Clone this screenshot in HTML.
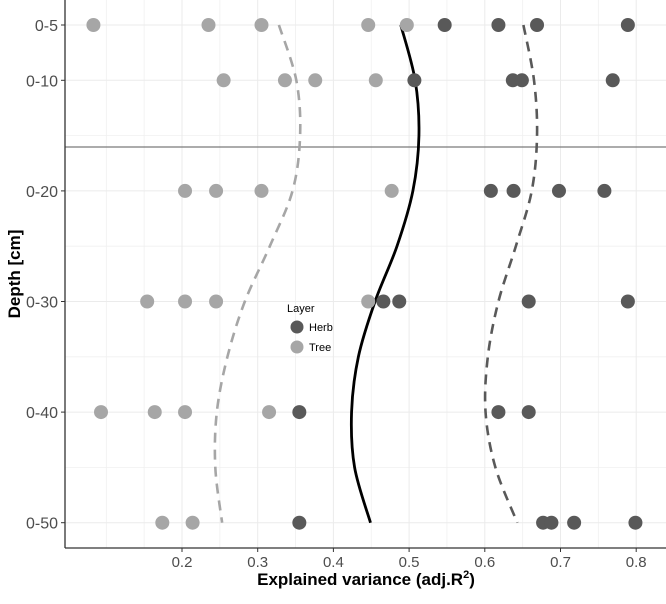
<!DOCTYPE html>
<html><head><meta charset="utf-8"><style>
html,body{margin:0;padding:0;background:#fff;}
svg text{font-family:"Liberation Sans",sans-serif;}
</style></head><body>
<svg id="chart" width="666" height="599" xmlns="http://www.w3.org/2000/svg">
<g id="grid"></g>
<line x1="65" x2="666" y1="147" y2="147" stroke="#7a7a7a" stroke-width="1.2"/>
<g id="curves"></g>
<g id="points"></g>
<g id="axes"></g>
<text x="366" y="585" text-anchor="middle" font-size="17" font-weight="bold" fill="#000">Explained variance (adj.R<tspan dy="-7" font-size="11">2</tspan><tspan dy="7">)</tspan></text>
<text transform="translate(20,274) rotate(-90)" text-anchor="middle" font-size="17" font-weight="bold" fill="#000">Depth [cm]</text>
<g>
<text x="287" y="312" font-size="11" fill="#000">Layer</text>
<circle cx="297" cy="327" r="6.5" fill="#595959"/>
<text x="309" y="331" font-size="11" fill="#000">Herb</text>
<circle cx="297" cy="347" r="6.5" fill="#a6a6a6"/>
<text x="309" y="351" font-size="11" fill="#000">Tree</text>
</g>
</svg>
<script>
const depthTicks=[5,10,20,30,40,50];
const depthLabels=["0-5","0-10","0-20","0-30","0-40","0-50"];
const xTicks=[0.2,0.3,0.4,0.5,0.6,0.7,0.8];
const treeDepths=[5,5,5,5,5,10,10,10,10,20,20,20,20,30,30,30,30,40,40,40,40,50,50];
const treeValues=[0.083,0.235,0.305,0.446,0.497,0.255,0.336,0.376,0.456,0.204,0.245,0.305,0.477,0.154,0.204,0.245,0.446,0.093,0.164,0.204,0.315,0.174,0.214];
const herbDepths=[5,5,5,5,10,10,10,10,20,20,20,20,30,30,30,30,40,40,40,50,50,50,50,50];
const herbValues=[0.547,0.618,0.669,0.789,0.507,0.637,0.649,0.769,0.608,0.638,0.698,0.758,0.466,0.487,0.658,0.789,0.355,0.618,0.658,0.355,0.677,0.688,0.718,0.799];
const curveDepths=[5,10,15,20,25,30,35,40,45,50];
const allCurve=[0.489,0.508,0.513,0.505,0.484,0.455,0.433,0.424,0.428,0.449];
const treeCurve=[0.328,0.351,0.356,0.346,0.316,0.283,0.260,0.246,0.244,0.253];
const herbCurve=[0.651,0.665,0.669,0.662,0.641,0.618,0.604,0.601,0.614,0.643];

const NS="http://www.w3.org/2000/svg";
const X=v=>182+(v-0.2)*757;
const Y=d=>25+(d-5)*11.06;
function mk(tag,attrs,parent){const e=document.createElementNS(NS,tag);for(const k in attrs)e.setAttribute(k,attrs[k]);parent.appendChild(e);return e;}
const grid=document.getElementById('grid'),axes=document.getElementById('axes');
[15,25,35,45].forEach(d=>{const l=mk('line',{x1:65,x2:666,y1:Y(d),y2:Y(d),stroke:'#f0f0f0','stroke-width':0.8},grid);

});
[0.15,0.25,0.35,0.45,0.55,0.65,0.75,0.1].forEach(v=>{const l=mk('line',{x1:X(v),x2:X(v),y1:0,y2:548,stroke:'#f0f0f0','stroke-width':0.8},grid);

});
depthTicks.forEach(d=>{const l=mk('line',{x1:65,x2:666,y1:Y(d),y2:Y(d),stroke:'#ebebeb','stroke-width':1},grid);

});
xTicks.forEach(v=>{const l=mk('line',{x1:X(v),x2:X(v),y1:0,y2:548,stroke:'#ebebeb','stroke-width':1},grid);

});
function smooth(vals){const p=curveDepths.map((d,i)=>[X(vals[i]),Y(d)]);let s=`M${p[0][0]},${p[0][1]}`;
for(let i=0;i<p.length-1;i++){const p0=p[i-1]||p[i],p1=p[i],p2=p[i+1],p3=p[i+2]||p2;
s+=` C${p1[0]+(p2[0]-p0[0])/6},${p1[1]+(p2[1]-p0[1])/6} ${p2[0]-(p3[0]-p1[0])/6},${p2[1]-(p3[1]-p1[1])/6} ${p2[0]},${p2[1]}`;}return s;}
const cg=document.getElementById('curves');
const c1=mk('path',{d:smooth(treeCurve),fill:'none',stroke:'#a6a6a6','stroke-width':2.6,'stroke-dasharray':'10 7'},cg);


const c2=mk('path',{d:smooth(herbCurve),fill:'none',stroke:'#595959','stroke-width':2.6,'stroke-dasharray':'10 7'},cg);


const c3=mk('path',{d:smooth(allCurve),fill:'none',stroke:'#000','stroke-width':2.8},cg);


const pg=document.getElementById('points');
treeValues.forEach((v,i)=>{const c=mk('circle',{cx:X(v),cy:Y(treeDepths[i]),r:7,fill:'#a6a6a6'},pg);

});
herbValues.forEach((v,i)=>{const c=mk('circle',{cx:X(v),cy:Y(herbDepths[i]),r:7,fill:'#595959'},pg);

});
const ax1=mk('line',{x1:65,x2:65,y1:0,y2:548,stroke:'#333','stroke-width':1.3},axes);


const ax2=mk('line',{x1:65,x2:666,y1:548,y2:548,stroke:'#333','stroke-width':1.3},axes);


depthTicks.forEach((d,i)=>{const t=mk('line',{x1:61,x2:65,y1:Y(d),y2:Y(d),stroke:'#333'},axes);


const tx=mk('text',{x:58,y:Y(d)+6,'text-anchor':'end','font-size':16,fill:'#4d4d4d'},axes);tx.textContent=depthLabels[i];

});
xTicks.forEach(v=>{const t=mk('line',{x1:X(v),x2:X(v),y1:548,y2:552,stroke:'#333'},axes);


const tx=mk('text',{x:X(v),y:567,'text-anchor':'middle','font-size':15,fill:'#4d4d4d'},axes);tx.textContent=v.toFixed(1);

});
</script>
</body></html>
